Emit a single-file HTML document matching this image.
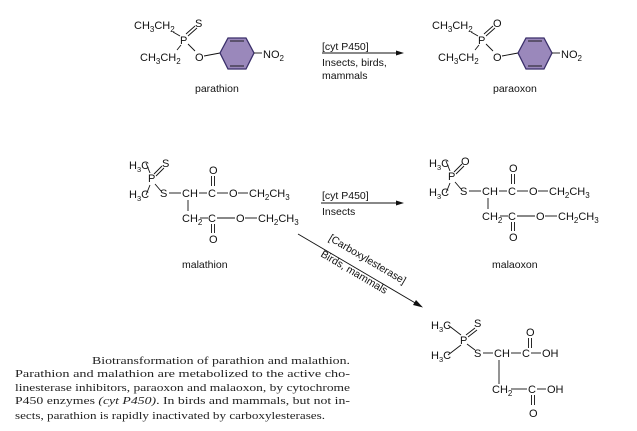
<!DOCTYPE html>
<html><head><meta charset="utf-8"><style>
html,body{margin:0;padding:0;background:#fff;}
svg{display:block;}
.c{font-family:"Liberation Sans",sans-serif;font-size:11px;fill:#111;}
.l{font-family:"Liberation Sans",sans-serif;font-size:10.5px;fill:#111;}
.cap{font-family:"Liberation Serif",serif;font-size:11px;fill:#222;}
line,polyline{stroke:#111;stroke-width:0.9;fill:none;}
</style></head><body>
<svg width="637" height="431" viewBox="0 0 637 431" xmlns="http://www.w3.org/2000/svg">
<defs>
<g id="parP">
  <text class="c" x="134" y="29">CH<tspan font-size="8" dy="3">3</tspan><tspan dy="-3">CH</tspan><tspan font-size="8" dy="3">2</tspan></text>
  <text class="c" x="140" y="61">CH<tspan font-size="8" dy="3">3</tspan><tspan dy="-3">CH</tspan><tspan font-size="8" dy="3">2</tspan></text>
  <text class="c" x="180" y="44">P</text>
  <text class="c" x="195" y="61">O</text>
  <line x1="173" y1="32" x2="180" y2="36"/>
  <line x1="177" y1="50" x2="181" y2="45"/>
  <line x1="188" y1="44" x2="195" y2="51"/>
  <line x1="204" y1="56" x2="220" y2="53"/>
  <polygon points="220,53 228,38 246,38 254,53 246,69 228,69" fill="#9a88bb" stroke="#3a2f6a" stroke-width="1.3"/>
  <line x1="230" y1="41" x2="244" y2="41" stroke="#3a2f6a"/>
  <line x1="230" y1="66" x2="244" y2="66" stroke="#3a2f6a"/>
  <line x1="254" y1="53" x2="262" y2="53"/>
  <text class="c" x="263" y="58">NO<tspan font-size="8" dy="3">2</tspan></text>
  <line x1="186" y1="34" x2="195" y2="26"/>
  <line x1="188" y1="36" x2="197" y2="28"/>
</g>
<g id="malcore">
  <text class="c" x="129" y="169" font-size="10.5">H<tspan font-size="7.5" dy="3">3</tspan><tspan dy="-3">C</tspan></text>
  <text class="c" x="129" y="198" font-size="10.5">H<tspan font-size="7.5" dy="3">3</tspan><tspan dy="-3">C</tspan></text>
  <text class="c" x="148" y="182">P</text>
  <line x1="146" y1="163" x2="150" y2="173"/>
  <line x1="146" y1="195" x2="150" y2="185"/>
  <line x1="155" y1="184" x2="161" y2="191"/>
  <line x1="154" y1="174" x2="162" y2="166"/>
  <line x1="156" y1="176" x2="164" y2="168"/>
  <text class="c" x="160" y="197">S</text>
  <line x1="169" y1="193" x2="181" y2="193"/>
  <text class="c" x="182" y="197">CH</text>
  <line x1="199" y1="193" x2="207" y2="193"/>
  <text class="c" x="208" y="197">C</text>
  <line x1="217" y1="193" x2="228" y2="193"/>
  <text class="c" x="229" y="197">O</text>
  <line x1="238" y1="193" x2="248" y2="193"/>
  <text class="c" x="249" y="197">CH<tspan font-size="8" dy="3">2</tspan><tspan dy="-3">CH</tspan><tspan font-size="8" dy="3">3</tspan></text>
  <text class="c" x="209" y="174">O</text>
  <line x1="211.5" y1="176" x2="211.5" y2="186"/>
  <line x1="214.5" y1="176" x2="214.5" y2="186"/>
  <line x1="188" y1="200" x2="188" y2="211"/>
  <text class="c" x="182" y="222">CH<tspan font-size="8" dy="3">2</tspan></text>
  <line x1="200" y1="218" x2="208" y2="218"/>
  <text class="c" x="208" y="222">C</text>
  <line x1="217" y1="218" x2="235" y2="218"/>
  <text class="c" x="236" y="222">O</text>
  <line x1="245" y1="218" x2="257" y2="218"/>
  <text class="c" x="258" y="222">CH<tspan font-size="8" dy="3">2</tspan><tspan dy="-3">CH</tspan><tspan font-size="8" dy="3">3</tspan></text>
  <line x1="211.5" y1="224" x2="211.5" y2="233"/>
  <line x1="214.5" y1="224" x2="214.5" y2="233"/>
  <text class="c" x="209" y="243">O</text>
</g>
</defs>

<use href="#parP"/>
<text class="c" x="195" y="27">S</text>
<text class="l" x="195" y="92">parathion</text>

<use href="#parP" transform="translate(298,0)"/>
<text class="c" x="493" y="27">O</text>
<text class="l" x="493" y="92">paraoxon</text>

<text class="l" x="322" y="50">[cyt P450]</text>
<line x1="322" y1="53" x2="398" y2="53"/>
<polygon points="404,53 396,50.5 396,55.5" fill="#111"/>
<text class="l" x="322" y="66">Insects, birds,</text>
<text class="l" x="322" y="79">mammals</text>

<use href="#malcore"/>
<text class="c" x="162" y="167">S</text>
<text class="l" x="182" y="268">malathion</text>

<use href="#malcore" transform="translate(300,-2)"/>
<text class="c" x="461" y="165">O</text>
<text class="l" x="492" y="268">malaoxon</text>

<text class="l" x="322" y="199">[cyt P450]</text>
<line x1="321" y1="203" x2="398" y2="203"/>
<polygon points="404,203 396,200.5 396,205.5" fill="#111"/>
<text class="l" x="322" y="215">Insects</text>

<line x1="298" y1="234" x2="417" y2="304"/>
<polygon points="423,307.5 413,305 416,300" fill="#111"/>
<g transform="translate(328,240) rotate(30.5)">
  <text class="l" x="0" y="0">[Carboxylesterase]</text>
</g>
<g transform="translate(320,256) rotate(30.5)">
  <text class="l" x="0" y="0">Birds, mammals</text>
</g>

<text class="c" x="431" y="329" font-size="10.5">H<tspan font-size="7.5" dy="3">3</tspan><tspan dy="-3">C</tspan></text>
<text class="c" x="431" y="359" font-size="10.5">H<tspan font-size="7.5" dy="3">3</tspan><tspan dy="-3">C</tspan></text>
<text class="c" x="460" y="344">P</text>
<text class="c" x="474" y="327">S</text>
<line x1="448" y1="325" x2="461" y2="335"/>
<line x1="448" y1="355" x2="461" y2="345"/>
<line x1="466" y1="335" x2="475" y2="328"/>
<line x1="468" y1="337" x2="477" y2="330"/>
<line x1="467" y1="344" x2="475" y2="350"/>
<text class="c" x="474" y="357">S</text>
<line x1="483" y1="353" x2="493" y2="353"/>
<text class="c" x="494" y="357">CH</text>
<line x1="511" y1="353" x2="521" y2="353"/>
<text class="c" x="522" y="357">C</text>
<line x1="531" y1="353" x2="541" y2="353"/>
<text class="c" x="542" y="357">OH</text>
<text class="c" x="526" y="336">O</text>
<line x1="528.5" y1="338" x2="528.5" y2="348"/>
<line x1="531.5" y1="338" x2="531.5" y2="348"/>
<line x1="499" y1="360" x2="499" y2="384"/>
<text class="c" x="492" y="393">CH<tspan font-size="8" dy="3">2</tspan></text>
<line x1="511" y1="389" x2="527" y2="389"/>
<text class="c" x="528" y="393">C</text>
<line x1="537" y1="389" x2="546" y2="389"/>
<text class="c" x="547" y="393">OH</text>
<line x1="531.5" y1="395" x2="531.5" y2="405"/>
<line x1="534.5" y1="395" x2="534.5" y2="405"/>
<text class="c" x="529" y="417">O</text>

<text class="cap" x="92" y="364" textLength="258" lengthAdjust="spacingAndGlyphs">Biotransformation of parathion and malathion.</text>
<text class="cap" x="15" y="377" textLength="335" lengthAdjust="spacingAndGlyphs">Parathion and malathion are metabolized to the active cho-</text>
<text class="cap" x="15" y="391" textLength="335" lengthAdjust="spacingAndGlyphs">linesterase inhibitors, paraoxon and malaoxon, by cytochrome</text>
<text class="cap" x="15" y="404" textLength="335" lengthAdjust="spacingAndGlyphs">P450 enzymes <tspan font-style="italic">(cyt P450)</tspan>. In birds and mammals, but not in-</text>
<text class="cap" x="15" y="419" textLength="310" lengthAdjust="spacingAndGlyphs">sects, parathion is rapidly inactivated by carboxylesterases.</text>
</svg>
</body></html>
